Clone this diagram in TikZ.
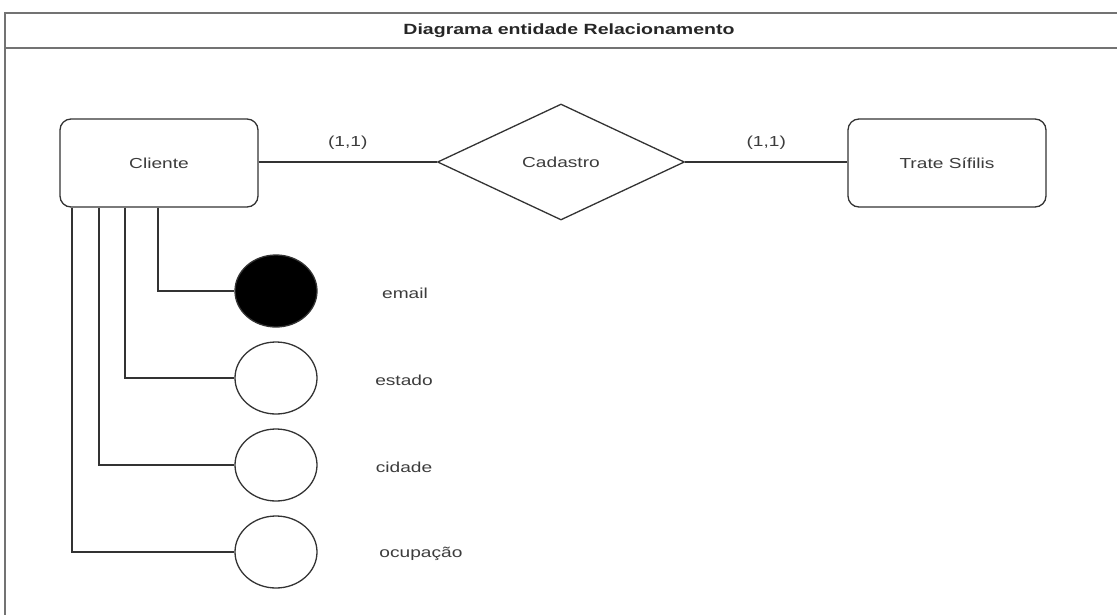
\documentclass[tikz,border=0pt]{standalone}
\usepackage{fontspec}
\setmainfont{Liberation Sans}[FakeStretch=1.32]
\usetikzlibrary{shapes.geometric}
\definecolor{ink}{HTML}{333333}
\definecolor{txt}{HTML}{3C3C3C}
\begin{document}
\begin{tikzpicture}[x=1pt,y=-1pt,
  line width=1.3pt,
  every node/.style={text=txt,font=\fontsize{14.5}{17}\selectfont},
  entity/.style={draw=ink,rounded corners=11pt,minimum width=198pt,minimum height=88pt,inner sep=0pt},
  rel/.style={draw=ink,diamond,aspect=2.13,minimum width=247pt,minimum height=116pt,inner sep=0pt},
  attr/.style={draw=ink,ellipse,minimum width=82pt,minimum height=72pt,inner sep=0pt,fill=white},
  keyattr/.style={attr,fill=black},
  conn/.style={draw=ink,line width=1.3pt}]
\useasboundingbox (0,0) rectangle (1117,614);
\fill[white] (0,0) rectangle (1117,614);
% frame
\draw[draw=black!55,line width=2pt] (5,640) -- (5,13) -- (1130,13);
\draw[draw=black!55,line width=2pt] (5,48) -- (1130,48);
\node[font=\bfseries\fontsize{14.8}{17}\selectfont,text=black!85] (title) at (569,31) {Diagrama entidade Relacionamento};
% entities and relationship
\node[entity] (cli) at (159,163) {Cliente};
\node[rel] (cad) at (561,162) {Cadastro};
\node[entity] (tra) at (947,163) {Trate Sífilis};
\draw[conn] (cli.east |- cad.west) -- node[above=9pt] {(1,1)} (cad.west);
\draw[conn] (cad.east) -- node[above=9pt] {(1,1)} (tra.west |- cad.east);
% attributes
\node[keyattr] (em) at (276,291) {};
\node[attr] (es) at (276,378) {};
\node[attr] (ci) at (276,465) {};
\node[attr] (oc) at (276,552) {};
\node (lem) at (405,293) {email};
\node (les) at (404,380) {estado};
\node (lci) at (404,467) {cidade};
\node (loc) at (421,554) {ocupação};
\draw[conn] (cli.south -| 158,0) |- (em.west);
\draw[conn] (cli.south -| 125,0) |- (es.west);
\draw[conn] (cli.south -| 99,0) |- (ci.west);
\draw[conn] (cli.south -| 72,0) |- (oc.west);
\end{tikzpicture}
\end{document}
